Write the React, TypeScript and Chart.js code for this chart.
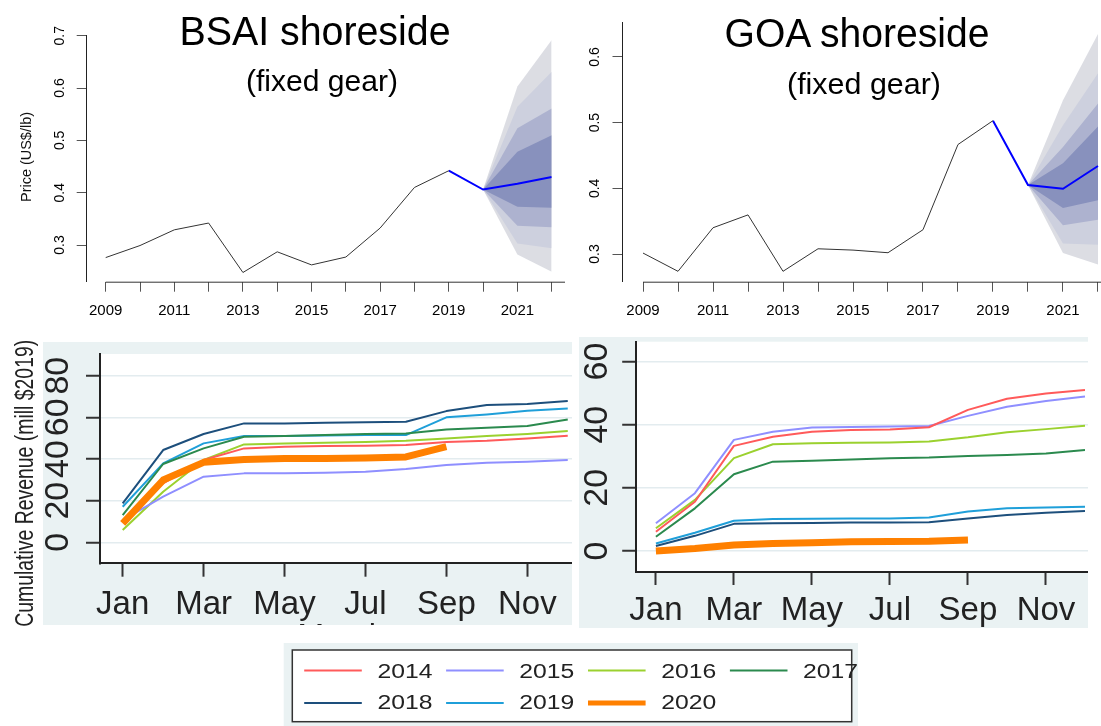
import React, { useEffect, useRef } from "react";
import { Chart, registerables } from "chart.js";

Chart.register(...registerables);

const FONT = "'Liberation Sans', Arial, Helvetica, sans-serif";
const PANEL_BG = "#eaf2f3";

// ---------- price panels (top) ----------
const priceYears = [2009, 2010, 2011, 2012, 2013, 2014, 2015, 2016, 2017, 2018, 2019, 2020, 2021, 2022];
const lastObservedYear = 2019;
const bsaiPrice = [0.276, 0.299, 0.329, 0.342, 0.2475, 0.287, 0.262, 0.277, 0.3325, 0.41, 0.442, 0.406, 0.417, 0.43];
const goaPrice = [0.3015, 0.2737, 0.34, 0.3596, 0.2737, 0.308, 0.306, 0.302, 0.337, 0.4667, 0.503, 0.405, 0.3994, 0.434];
const bsaiPriceTicks = [0.3, 0.4, 0.5, 0.6, 0.7];
const goaPriceTicks = [0.3, 0.4, 0.5, 0.6];

// forecast fan (outer band = 1 ... inner band = 4)
const fanYears = [2020, 2021, 2022];
const bsaiFanHi1 = [0.406, 0.603, 0.692];
const bsaiFanHi2 = [0.406, 0.564, 0.631];
const bsaiFanHi3 = [0.406, 0.523, 0.561];
const bsaiFanHi4 = [0.406, 0.478, 0.51];
const bsaiFanLo1 = [0.406, 0.282, 0.249];
const bsaiFanLo2 = [0.406, 0.303, 0.294];
const bsaiFanLo3 = [0.406, 0.337, 0.334];
const bsaiFanLo4 = [0.406, 0.373, 0.371];
const goaFanHi1 = [0.405, 0.534, 0.635];
const goaFanHi2 = [0.405, 0.496, 0.575];
const goaFanHi3 = [0.405, 0.463, 0.529];
const goaFanHi4 = [0.405, 0.438, 0.494];
const goaFanLo1 = [0.405, 0.3017, 0.284];
const goaFanLo2 = [0.405, 0.316, 0.314];
const goaFanLo3 = [0.405, 0.344, 0.352];
const goaFanLo4 = [0.405, 0.37, 0.382];
const fanColors = ["#dcdde3", "#cdd0de", "#adb2cf", "#8891bd"];

// ---------- cumulative revenue panels (bottom) ----------
const monthLabels = ["Jan", "Feb", "Mar", "Apr", "May", "Jun", "Jul", "Aug", "Sep", "Oct", "Nov", "Dec"];
const monthTicks = [1, 3, 5, 7, 9, 11];
const revenueYears = ["2014", "2015", "2016", "2017", "2018", "2019", "2020"];
const yearColors = ["#ff5a5a", "#8f8fff", "#9bd12f", "#2b8a4e", "#1d4f7c", "#1f9fd9", "#ff8000"];

const bsaiRev2014 = [9.9, 28.3, 39.5, 45.1, 45.9, 46.2, 46.4, 46.7, 48.2, 48.8, 49.9, 51.2];
const bsaiRev2015 = [10.7, 21.9, 31.5, 33.1, 33.1, 33.4, 33.9, 35.2, 37.1, 38.2, 38.7, 39.5];
const bsaiRev2016 = [5.9, 24.3, 39.5, 47.0, 47.5, 47.8, 48.2, 48.8, 49.9, 51.0, 52.0, 53.4];
const bsaiRev2017 = [13.1, 37.6, 45.1, 50.7, 51.0, 51.5, 52.0, 52.3, 54.2, 55.0, 55.8, 59.0];
const bsaiRev2018 = [18.7, 44.3, 52.0, 57.1, 57.1, 57.4, 57.6, 57.9, 63.0, 65.9, 66.4, 67.8];
const bsaiRev2019 = [17.1, 37.9, 47.5, 51.0, 51.0, 51.3, 51.5, 51.5, 60.0, 61.4, 63.2, 64.2];
const bsaiRev2020 = [9.1, 29.9, 38.4, 39.8, 40.2, 40.3, 40.5, 41.0, 45.9];
const bsaiRevTicks = [0, 20, 40, 60, 80];

const goaRev2014 = [6.1, 15.6, 33.3, 36.2, 37.8, 38.3, 38.5, 39.2, 44.7, 48.2, 49.9, 51.0];
const goaRev2015 = [8.8, 18.3, 35.2, 37.8, 39.1, 39.3, 39.4, 39.6, 42.8, 45.7, 47.5, 48.9];
const goaRev2016 = [7.2, 16.2, 29.4, 33.8, 34.1, 34.3, 34.4, 34.7, 36.0, 37.6, 38.6, 39.7];
const goaRev2017 = [4.5, 13.5, 24.3, 28.3, 28.6, 29.0, 29.4, 29.6, 30.1, 30.4, 30.9, 32.0];
const goaRev2018 = [1.6, 4.8, 8.6, 8.8, 8.9, 9.0, 9.0, 9.1, 10.3, 11.4, 12.1, 12.7];
const goaRev2019 = [2.4, 5.8, 9.6, 10.1, 10.2, 10.3, 10.3, 10.6, 12.5, 13.5, 13.8, 14.0];
const goaRev2020 = [0.0, 0.8, 1.9, 2.4, 2.6, 2.9, 3.0, 3.1, 3.5];
const goaRevTicks = [0, 20, 40, 60];

// ---------- plugins ----------
const xAxisLinePlugin = {
  id: "xAxisLine",
  afterDraw(chart: any) {
    const { ctx, chartArea } = chart;
    const xs = chart.scales.x;
    const x0 = xs.getPixelForValue(priceYears[0]);
    ctx.save();
    ctx.strokeStyle = "#333";
    ctx.lineWidth = 1;
    ctx.beginPath();
    ctx.moveTo(x0, chartArea.bottom + 0.5);
    ctx.lineTo(chart.width, chartArea.bottom + 0.5);
    ctx.stroke();
    ctx.restore();
  },
};

const panelBgPlugin = {
  id: "panelBg",
  beforeDraw(chart: any) {
    const { ctx, chartArea: a, width, height } = chart;
    ctx.save();
    ctx.fillStyle = PANEL_BG;
    ctx.fillRect(0, 0, width, height);
    ctx.fillStyle = "#ffffff";
    ctx.fillRect(a.left, a.top, a.right - a.left, a.bottom - a.top);
    ctx.restore();
  },
};

function pts(xs: number[], ys: number[]) {
  return ys.map((y, i) => ({ x: xs[i], y }));
}

function zeroPad(s: any) {
  s.paddingTop = 0;
  s.paddingBottom = 0;
  s.paddingLeft = 0;
  s.paddingRight = 0;
}

function priceConfig(p: any) {
  const cut = priceYears.indexOf(lastObservedYear);
  const datasets: any[] = [
    {
      data: pts(priceYears.slice(0, cut + 1), p.price.slice(0, cut + 1)),
      borderColor: "#333333",
      borderWidth: 1,
      order: 0,
    },
    {
      data: pts(priceYears.slice(cut), p.price.slice(cut)),
      borderColor: "#0000ff",
      borderWidth: 2,
      order: 0,
    },
  ];
  p.hi.forEach((hi: number[], k: number) => {
    const hiIndex = datasets.length;
    datasets.push({
      data: pts(fanYears, hi),
      borderColor: "rgba(0,0,0,0)",
      borderWidth: 0,
      fill: false,
      order: 10 - k,
    });
    datasets.push({
      data: pts(fanYears, p.lo[k]),
      borderColor: "rgba(0,0,0,0)",
      borderWidth: 0,
      backgroundColor: fanColors[k],
      fill: hiIndex,
      order: 10 - k,
    });
  });
  return {
    type: "line",
    data: { datasets },
    plugins: [xAxisLinePlugin],
    options: {
      animation: false,
      responsive: false,
      devicePixelRatio: 1,
      events: [],
      layout: { padding: { left: 0, top: p.padTop, right: p.padRight, bottom: 0 } },
      elements: { point: { radius: 0 }, line: { tension: 0 } },
      plugins: { legend: { display: false }, tooltip: { enabled: false } },
      scales: {
        x: {
          type: "linear",
          min: p.xMin,
          max: p.xMax,
          afterBuildTicks: (s: any) => {
            s.ticks = priceYears.map((v) => ({ value: v }));
          },
          afterFit: (s: any) => {
            s.height = p.xAxisHeight;
            zeroPad(s);
          },
          border: { display: false },
          grid: { drawOnChartArea: false, drawTicks: true, tickLength: 10, tickColor: "#555", tickWidth: 1 },
          ticks: {
            autoSkip: false,
            maxRotation: 0,
            minRotation: 0,
            padding: 10,
            color: "#000",
            font: { family: FONT, size: 15 },
            callback: (v: number) => (v % 2 === 1 ? String(v) : ""),
          },
        },
        y: {
          type: "linear",
          min: p.yMin,
          max: p.yMax,
          afterBuildTicks: (s: any) => {
            s.ticks = p.yTicks.map((v: number) => ({ value: v }));
          },
          afterFit: (s: any) => {
            s.width = p.yAxisWidth;
            zeroPad(s);
          },
          border: { display: true, color: "#222", width: 1 },
          grid: { drawOnChartArea: false, drawTicks: true, tickLength: p.yTickLen, tickColor: "#555", tickWidth: 1 },
          ticks: {
            autoSkip: false,
            minRotation: 90,
            maxRotation: 90,
            crossAlign: "center",
            padding: p.yTickPad,
            color: "#000",
            font: { family: FONT, size: 14 },
            callback: (v: number) => v.toFixed(1),
          },
        },
      },
    },
  };
}

function revenueConfig(p: any) {
  const datasets = p.series.map((s: number[], i: number) => ({
    label: revenueYears[i],
    data: s.map((v, j) => ({ x: j + 1, y: v })),
    borderColor: yearColors[i],
    borderWidth: i === revenueYears.length - 1 ? 7 : 2,
    borderJoinStyle: "round",
    order: i === revenueYears.length - 1 ? 0 : 1,
  }));
  return {
    type: "line",
    data: { datasets },
    plugins: [panelBgPlugin],
    options: {
      animation: false,
      responsive: false,
      devicePixelRatio: 1,
      events: [],
      layout: { padding: { left: 0, top: p.padTop, right: 0, bottom: 0 } },
      elements: { point: { radius: 0 }, line: { tension: 0 } },
      plugins: { legend: { display: false }, tooltip: { enabled: false } },
      scales: {
        x: {
          type: "linear",
          min: p.xMin,
          max: p.xMax,
          afterBuildTicks: (s: any) => {
            s.ticks = monthTicks.map((v) => ({ value: v }));
          },
          afterFit: (s: any) => {
            s.height = p.xAxisHeight;
            zeroPad(s);
          },
          border: { display: true, color: "#222", width: 2 },
          grid: { drawOnChartArea: false, drawTicks: true, tickLength: p.xTickLen, tickColor: "#333", tickWidth: 2 },
          ticks: {
            autoSkip: false,
            maxRotation: 0,
            minRotation: 0,
            padding: p.xTickPad,
            color: "#222",
            font: { family: FONT, size: 33 },
            callback: (v: number) => monthLabels[v - 1],
          },
        },
        y: {
          type: "linear",
          min: p.yMin,
          max: p.yMax,
          afterBuildTicks: (s: any) => {
            s.ticks = p.yTicks.map((v: number) => ({ value: v }));
          },
          afterFit: (s: any) => {
            s.width = p.yAxisWidth;
            zeroPad(s);
          },
          border: { display: true, color: "#222", width: 2 },
          grid: {
            drawOnChartArea: true,
            color: "#e3ecef",
            lineWidth: 1.5,
            drawTicks: true,
            tickLength: p.yTickLen,
            tickColor: "#333",
            tickWidth: 2,
          },
          ticks: {
            autoSkip: false,
            minRotation: 90,
            maxRotation: 90,
            crossAlign: "center",
            padding: p.yTickPad,
            color: "#222",
            font: { family: FONT, size: 34 },
            callback: (v: number) => String(v),
          },
        },
      },
    },
  };
}

function ChartBox(props: { left: number; top: number; width: number; height: number; make: () => any }) {
  const ref = useRef<HTMLCanvasElement | null>(null);
  useEffect(() => {
    const chart = new Chart(ref.current as HTMLCanvasElement, props.make());
    return () => chart.destroy();
  }, []);
  return (
    <canvas
      ref={ref}
      width={props.width}
      height={props.height}
      style={{ position: "absolute", left: props.left, top: props.top, width: props.width, height: props.height }}
    />
  );
}

export default function App() {
  const legendItems = revenueYears.map((yr, i) => {
    const col = i % 4;
    const row = Math.floor(i / 4);
    const x1 = 304.2 + col * 141.9;
    const ly = row === 0 ? 670.5 : 703;
    const ty = row === 0 ? 677.5 : 709;
    return (
      <g key={yr}>
        <line x1={x1} x2={x1 + 57.6} y1={ly} y2={ly} stroke={yearColors[i]} strokeWidth={i === 6 ? 5 : 2} />
        <text x={x1 + 73.2} y={ty} fontSize={20} textLength={55} lengthAdjust="spacingAndGlyphs" fill="#222">
          {yr}
        </text>
      </g>
    );
  });

  return (
    <div style={{ position: "absolute", left: 0, top: 0, width: 1101, height: 726, background: "#fff", overflow: "hidden" }}>
      <ChartBox
        left={0}
        top={0}
        width={565}
        height={325}
        make={() =>
          priceConfig({
            price: bsaiPrice,
            hi: [bsaiFanHi1, bsaiFanHi2, bsaiFanHi3, bsaiFanHi4],
            lo: [bsaiFanLo1, bsaiFanLo2, bsaiFanLo3, bsaiFanLo4],
            xMin: 2008.426,
            xMax: 2022,
            yMin: 0.2299,
            yMax: 0.7,
            yTicks: bsaiPriceTicks,
            padTop: 35.7,
            padRight: 13.3,
            yAxisWidth: 86,
            xAxisHeight: 43.3,
            yTickLen: 9.3,
            yTickPad: 7,
          })
        }
      />
      <ChartBox
        left={560}
        top={0}
        width={541}
        height={325}
        make={() =>
          priceConfig({
            price: goaPrice,
            hi: [goaFanHi1, goaFanHi2, goaFanHi3, goaFanHi4],
            lo: [goaFanLo1, goaFanLo2, goaFanLo3, goaFanLo4],
            xMin: 2008.414,
            xMax: 2022.086,
            yMin: 0.2579,
            yMax: 0.6527,
            yTicks: goaPriceTicks,
            padTop: 22.3,
            padRight: 0,
            yAxisWidth: 62.5,
            xAxisHeight: 43.3,
            yTickLen: 10,
            yTickPad: 7.8,
          })
        }
      />
      <ChartBox
        left={43}
        top={342}
        width={529}
        height={283}
        make={() =>
          revenueConfig({
            series: [bsaiRev2014, bsaiRev2015, bsaiRev2016, bsaiRev2017, bsaiRev2018, bsaiRev2019, bsaiRev2020],
            xMin: 0.439,
            xMax: 12.105,
            yMin: -10.08,
            yMax: 90.42,
            yTicks: bsaiRevTicks,
            padTop: 12,
            yAxisWidth: 57,
            xAxisHeight: 61.7,
            yTickLen: 14,
            yTickPad: 8.6,
            xTickLen: 13.4,
            xTickPad: 8.5,
          })
        }
      />
      <ChartBox
        left={579}
        top={337}
        width={509}
        height={291}
        make={() =>
          revenueConfig({
            series: [goaRev2014, goaRev2015, goaRev2016, goaRev2017, goaRev2018, goaRev2019, goaRev2020],
            xMin: 0.482,
            xMax: 12.077,
            yMin: -6.56,
            yMax: 66.29,
            yTicks: goaRevTicks,
            padTop: 4.7,
            yAxisWidth: 56.7,
            xAxisHeight: 56.3,
            yTickLen: 13.5,
            yTickPad: 5.3,
            xTickLen: 13.3,
            xTickPad: 6,
          })
        }
      />
      <svg
        width={1101}
        height={726}
        style={{ position: "absolute", left: 0, top: 0, pointerEvents: "none" }}
        fontFamily={FONT}
      >
        <defs>
          <clipPath id="legendClip">
            <rect x={283} y={640} width={575} height={86} />
          </clipPath>
          <clipPath id="monthClip">
            <rect x={43} y={600} width={529} height={25} />
          </clipPath>
        </defs>
        <text x={315} y={45} fontSize={40} textAnchor="middle" textLength={271} lengthAdjust="spacingAndGlyphs" fill="#000">
          BSAI shoreside
        </text>
        <text x={322} y={90.7} fontSize={30} textAnchor="middle" textLength={152} lengthAdjust="spacingAndGlyphs" fill="#000">
          (fixed gear)
        </text>
        <text x={857} y={46.5} fontSize={40} textAnchor="middle" textLength={265} lengthAdjust="spacingAndGlyphs" fill="#000">
          GOA shoreside
        </text>
        <text x={864} y={93.5} fontSize={30} textAnchor="middle" textLength={154} lengthAdjust="spacingAndGlyphs" fill="#000">
          (fixed gear)
        </text>
        <text
          transform="translate(30.5,157) rotate(-90)"
          fontSize={14}
          textAnchor="middle"
          textLength={90}
          lengthAdjust="spacingAndGlyphs"
          fill="#111"
        >
          Price (US$/lb)
        </text>
        <text
          transform="translate(33,483.3) rotate(-90)"
          fontSize={25}
          textAnchor="middle"
          textLength={287}
          lengthAdjust="spacingAndGlyphs"
          fill="#222"
        >
          Cumulative Revenue (mill $2019)
        </text>
        <g clipPath="url(#monthClip)">
          <text x={342} y={646} fontSize={32} textAnchor="middle" fill="#222">
            Month
          </text>
        </g>
        <g clipPath="url(#legendClip)">
          <rect x={283.7} y={643} width={575} height={83} fill={PANEL_BG} />
          <rect x={292.3} y={650} width={559.4} height={71.7} fill="#fff" stroke="#333" strokeWidth={1.5} />
          {legendItems}
        </g>
      </svg>
    </div>
  );
}
